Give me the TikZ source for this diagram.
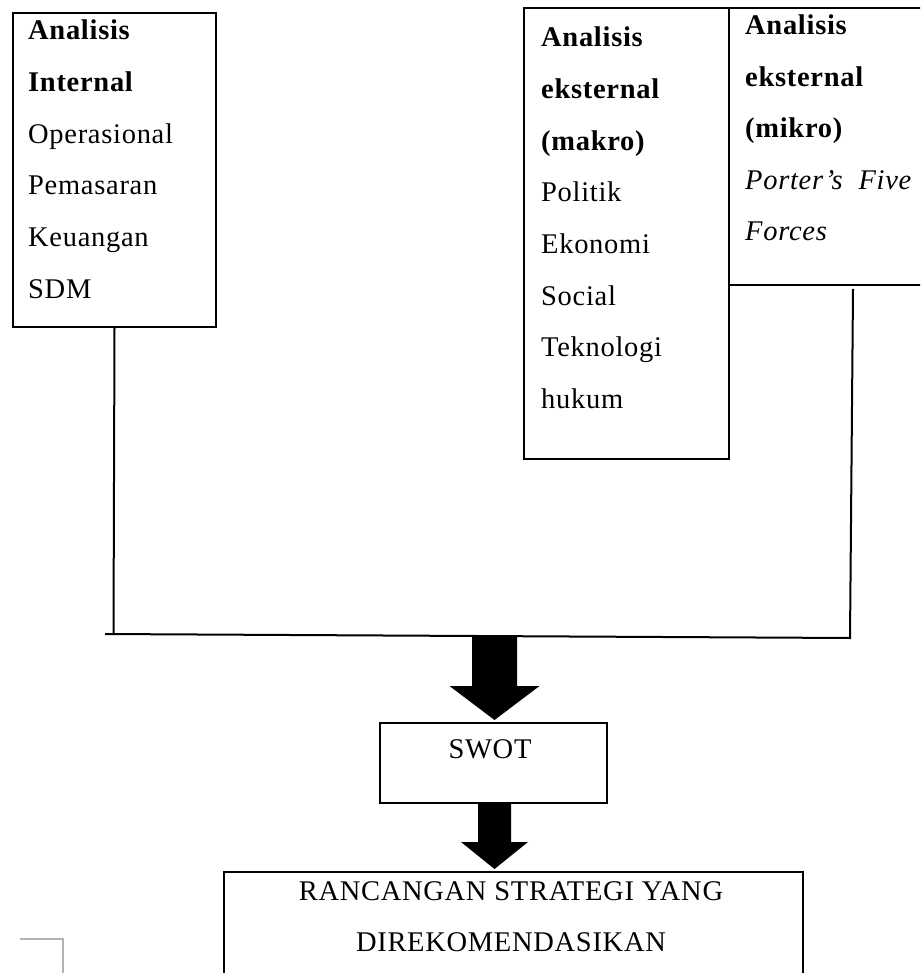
\documentclass[tikz,border=0pt]{standalone}
\usepackage{fontspec}
\setmainfont[LetterSpace=2.5]{Liberation Serif}
\begin{document}
\begin{tikzpicture}[x=1pt,y=-1pt,
  box/.style={draw=black,line width=2pt,inner sep=0pt,anchor=north west},
  txt/.style={inner sep=0pt,anchor=base west,font=\fontsize{28.5}{34}\selectfont},
  ctxt/.style={inner sep=0pt,anchor=base,font=\fontsize{28.5}{34}\selectfont},
  conn/.style={draw=black,line width=2pt},
  blockarrow/.style={fill=black}]
\clip (0,0) rectangle (920,973);
\fill[white] (0,0) rectangle (920,973);
% boxes
\node[box,minimum width=203pt,minimum height=314pt] (int) at (12,12) {};
\node[box,minimum width=205pt,minimum height=451pt] (mak) at (523,7) {};
\node[box,minimum width=210pt,minimum height=277pt] (mik) at (728,7) {};
\node[box,minimum width=227pt,minimum height=80pt] (swot) at (379,722) {};
\node[box,minimum width=579pt,minimum height=140pt] (ran) at (223,871) {};
% texts box 1
\foreach \t [count=\i] in {\textbf{Analisis},\textbf{Internal},Operasional,Pemasaran,Keuangan,SDM}
  \node[txt] (ti\i) at (28,{40+(\i-1)*51.6}) {\t};
% texts box 2
\foreach \t [count=\i] in {\textbf{Analisis},\textbf{eksternal},\textbf{(makro)},Politik,Ekonomi,Social,Teknologi,hukum}
  \node[txt] (tm\i) at (541,{47+(\i-1)*51.6}) {\t};
% texts box 3
\foreach \t [count=\i] in {\textbf{Analisis},\textbf{eksternal},\textbf{(mikro)},\textit{Porter’s\hspace{16pt}Five},\textit{Forces}}
  \node[txt] (tk\i) at (745,{35+(\i-1)*51.5}) {\t};
\node[ctxt] (tswot) at (490,758) {SWOT};
\node[ctxt] (tr1) at (511,900) {RANCANGAN STRATEGI YANG};
\node[ctxt] (tr2) at (511,951) {DIREKOMENDASIKAN};
% connectors
\coordinate (jl) at (113.5,634);
\coordinate (jl0) at (105,634);
\coordinate (jr) at (850,638);
\coordinate (rt) at (853,289);
\draw[conn] (int.south) -- (jl);
\draw[conn] (jl0) -- (jr) -- (rt);
% block arrows
\coordinate (a1) at (494.5,637);
\coordinate (a2) at (494.5,802);
\fill[blockarrow] (a1) ++(-22.5,0) -- ++(45,0) -- ++(0,49) -- ++(22.5,0) -- ++(-45,34) -- ++(-45,-34) -- ++(22.5,0) -- cycle;
\fill[blockarrow] (a2) ++(-16.5,0) -- ++(33,0) -- ++(0,40) -- ++(17,0) -- ++(-33.5,27) -- ++(-33.5,-27) -- ++(17,0) -- cycle;
% corner mark
\coordinate (cm1) at (20,939);
\coordinate (cm2) at (63,939);
\coordinate (cm3) at (63,973);
\draw[gray!60,line width=1.5pt] (cm1) -- (cm2) -- (cm3);
\end{tikzpicture}
\end{document}
